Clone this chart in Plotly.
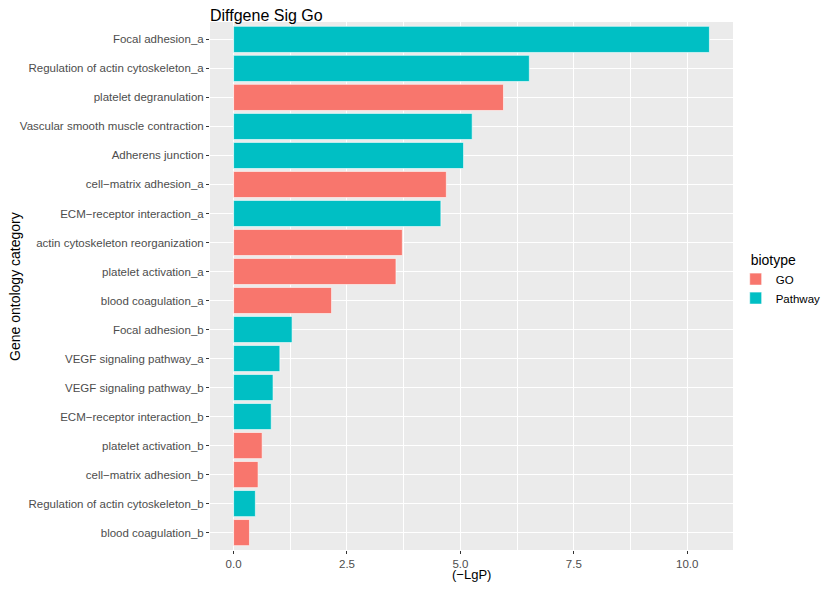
import plotly.graph_objects as go

terms = ['Focal adhesion_a', 'Regulation of actin cytoskeleton_a', 'platelet degranulation',
         'Vascular smooth muscle contraction', 'Adherens junction', 'cell\u2212matrix adhesion_a',
         'ECM\u2212receptor interaction_a', 'actin cytoskeleton reorganization', 'platelet activation_a',
         'blood coagulation_a', 'Focal adhesion_b', 'VEGF signaling pathway_a',
         'VEGF signaling pathway_b', 'ECM\u2212receptor interaction_b', 'platelet activation_b',
         'cell\u2212matrix adhesion_b', 'Regulation of actin cytoskeleton_b', 'blood coagulation_b']
lgp = [10.49, 6.52, 5.95, 5.26, 5.07, 4.69, 4.57, 3.72, 3.58,
       2.16, 1.29, 1.02, 0.87, 0.83, 0.63, 0.54, 0.48, 0.35]
biotype = ['Pathway', 'Pathway', 'GO', 'Pathway', 'Pathway', 'GO', 'Pathway', 'GO', 'GO',
           'GO', 'Pathway', 'Pathway', 'Pathway', 'Pathway', 'GO', 'GO', 'Pathway', 'GO']
colors = {'GO': '#F8766D', 'Pathway': '#00BFC4'}

fig = go.Figure()
for bt in ['GO', 'Pathway']:
    ys = [t for t, b in zip(terms, biotype) if b == bt]
    xs = [v for v, b in zip(lgp, biotype) if b == bt]
    fig.add_trace(go.Bar(x=xs, y=ys, orientation='h', name=bt,
                         marker=dict(color=colors[bt], line=dict(color='white', width=0.6))))

font = 'Liberation Sans, Arial, sans-serif'
# page body has an 8px margin on every side, keep the figure inside the window
fig.update_layout(
    width=813, height=575,
    margin=dict(l=202, r=88, t=14, b=33, autoexpand=False),
    barmode='overlay', bargap=0.1,
    plot_bgcolor='#EBEBEB', paper_bgcolor='white',
    font=dict(family=font, size=12, color='black'),
    title=dict(text='Diffgene Sig Go', x=0, xref='paper', xanchor='left',
               y=1 - 7 / 575, yanchor='middle', font=dict(size=16, color='black')),
    legend=dict(title=dict(text='biotype', font=dict(size=14)), x=1.03, xanchor='left',
                y=0.575, yanchor='top', font=dict(size=11.5), bgcolor='rgba(0,0,0,0)',
                tracegroupgap=0, itemwidth=30, indentation=-13),
    xaxis=dict(range=[-0.52, 11.01], tickvals=[0, 2.5, 5, 7.5, 10],
               ticktext=['0.0', '2.5', '5.0', '7.5', '10.0'],
               showgrid=True, gridcolor='white', gridwidth=1.2,
               minor=dict(tickvals=[1.25, 3.75, 6.25, 8.75], showgrid=True,
                          gridcolor='white', gridwidth=0.6, ticks=''),
               zeroline=False, ticks='outside', ticklen=3, tickcolor='#333333',
               tickfont=dict(size=11.5, color='#4D4D4D'), automargin=False),
    yaxis=dict(categoryorder='array', categoryarray=terms[::-1],
               showgrid=True, gridcolor='white', gridwidth=1.2, zeroline=False,
               ticks='outside', ticklen=3, tickcolor='#333333', automargin=False,
               tickfont=dict(size=11.5, color='#4D4D4D'), range=[-0.6, 17.6]),
)
fig.add_annotation(text='Gene ontology category', textangle=-90, x=-0.373, y=0.5,
                   xref='paper', yref='paper', xanchor='center', yanchor='middle',
                   showarrow=False, font=dict(size=14, color='black'))
fig.add_annotation(text='(\u2212LgP)', x=0.5, y=-0.0455,
                   xref='paper', yref='paper', xanchor='center', yanchor='middle',
                   showarrow=False, font=dict(size=13, color='black'))
fig.write_html("out.html")
